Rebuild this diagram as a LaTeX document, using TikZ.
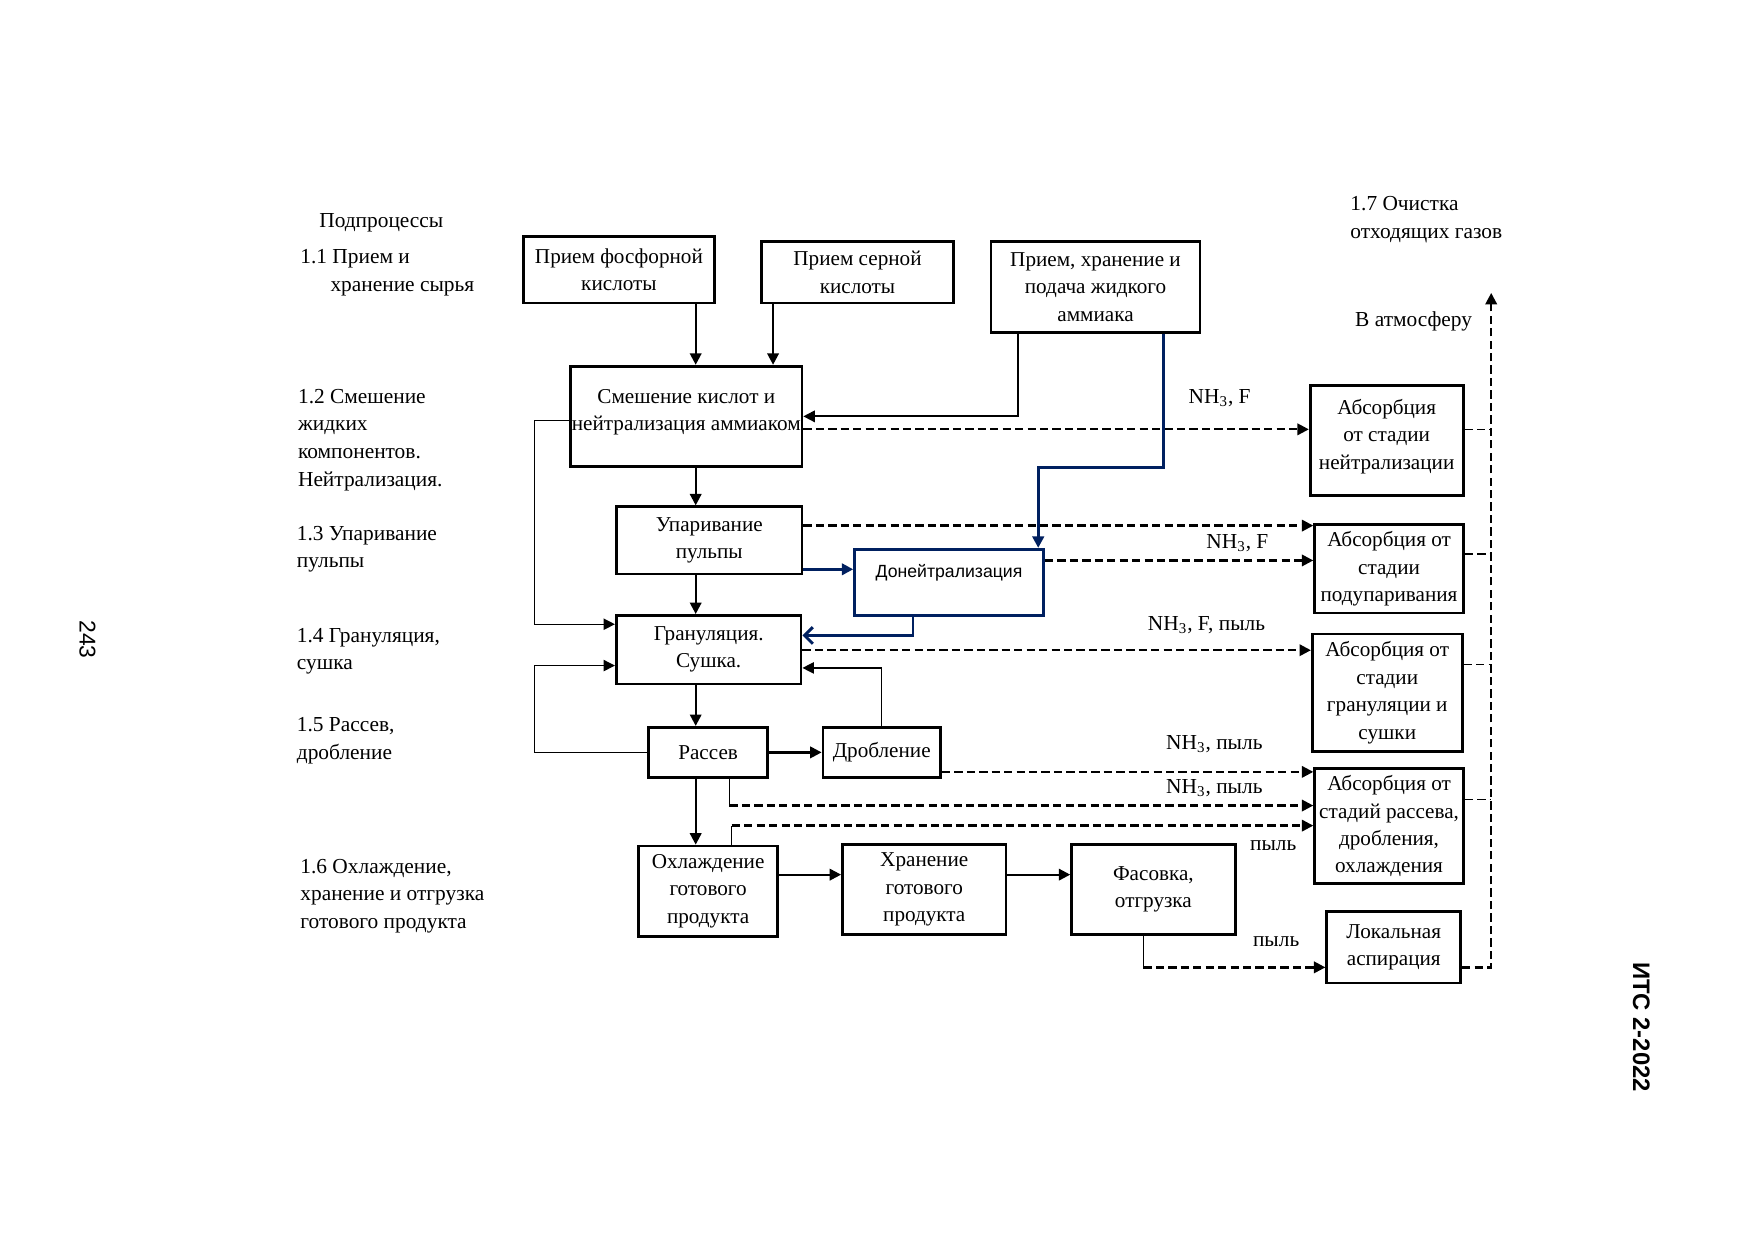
\documentclass[tikz,border=0pt]{standalone}
\usepackage{fontspec}
\setmainfont{Liberation Serif}
\newfontfamily\arialfont{Liberation Sans}
\usetikzlibrary{arrows.meta}
\definecolor{navy}{RGB}{0,32,96}
\begin{document}
\begin{tikzpicture}[>={Triangle[length=5.5pt,width=5.5pt]},
  box/.style={draw, line width=1.3pt, align=center, inner sep=0pt, font=\fontsize{10.2}{13.2}\selectfont},
  lbl/.style={anchor=west, align=left, inner sep=0pt, font=\fontsize{10.3}{13.3}\selectfont},
  flow/.style={->, line width=1.1pt},
  thinflow/.style={->, line width=0.6pt},
  gas/.style={->, line width=1.1pt, dash pattern=on 4pt off 2pt},
  gasline/.style={line width=0.8pt, dash pattern=on 4pt off 2pt},
  blueflow/.style={->, navy, line width=1.6pt}]
\fill[white] (0,0) rectangle (29.7,21.0);
\useasboundingbox (0,0) rectangle (29.7,21.0);

\node[lbl] (sub) at (5.40,17.22) {Подпроцессы};
\node[lbl] (s1) at (5.08,16.38) {1.1 Прием и\\\hspace{0.51cm}хранение сырья};
\node[lbl] (s2) at (5.04,13.55) {1.2 Смешение\\жидких\\компонентов.\\Нейтрализация.};
\node[lbl] (s3) at (5.02,11.70) {1.3 Упаривание\\пульпы};
\node[lbl] (s4) at (5.02,9.97) {1.4 Грануляция,\\сушка};
\node[lbl] (s5) at (5.02,8.46) {1.5 Рассев,\\дробление};
\node[lbl] (s6) at (5.08,5.83) {1.6 Охлаждение,\\хранение и отгрузка\\готового продукта};
\node[lbl] (s7) at (22.86,17.28) {1.7 Очистка\\отходящих газов};
\node[lbl] (atm) at (22.94,15.55) {В атмосферу};

\node[box, minimum width=3.24cm, minimum height=1.12cm] (phos) at (10.48,16.43) {Прием фосфорной\\кислоты};
\node[box, minimum width=3.24cm, minimum height=1.04cm] (sulf) at (14.52,16.39) {Прием серной\\кислоты};
\node[box, minimum width=3.54cm, minimum height=1.53cm] (ammo) at (18.55,16.14) {Прием, хранение и\\подача жидкого\\аммиака};
\node[box, minimum width=3.92cm, minimum height=1.70cm] (mix) at (11.62,13.95) {Смешение кислот и\\нейтрализация аммиаком\\[-7pt]\mbox{}};
\node[box, minimum width=3.14cm, minimum height=1.14cm] (upar) at (12.01,11.85) {Упаривание\\пульпы};
\node[box, navy, minimum width=3.20cm, minimum height=1.12cm, font=\arialfont\fontsize{8.5}{11}\selectfont] (donei) at (16.07,11.14) {\textcolor{black}{Донейтрализация}\\ \mbox{}};
\node[box, minimum width=3.13cm, minimum height=1.16cm] (gran) at (12.00,10.00) {Грануляция.\\Сушка.};
\node[box, minimum width=2.01cm, minimum height=0.85cm] (rass) at (11.99,8.26) {Рассев};
\node[box, minimum width=1.99cm, minimum height=0.85cm] (drob) at (14.93,8.26) {Дробление};
\node[box, minimum width=2.35cm, minimum height=1.53cm] (ohl) at (11.99,5.91) {Охлаждение\\готового\\продукта};
\node[box, minimum width=2.77cm, minimum height=1.52cm] (hran) at (15.65,5.94) {Хранение\\готового\\продукта};
\node[box, minimum width=2.77cm, minimum height=1.52cm] (fas) at (19.53,5.94) {Фасовка,\\отгрузка};
\node[box, minimum width=2.59cm, minimum height=1.86cm] (abs1) at (23.48,13.54) {Абсорбция\\от стадии\\нейтрализации\\[-7pt]\mbox{}};
\node[box, minimum width=2.52cm, minimum height=1.50cm] (abs2) at (23.52,11.37) {Абсорбция от\\стадии\\подупаривания};
\node[box, minimum width=2.54cm, minimum height=1.99cm] (abs3) at (23.49,9.27) {Абсорбция от\\стадии\\грануляции и\\сушки};
\node[box, minimum width=2.52cm, minimum height=1.95cm] (abs4) at (23.52,7.01) {Абсорбция от\\стадий рассева,\\дробления,\\охлаждения};
\node[box, minimum width=2.27cm, minimum height=1.21cm] (asp) at (23.60,4.96) {Локальная\\аспирация};

\node[lbl] (g1) at (20.12,14.26) {NH\textsubscript{3}, F};
\node[lbl] (g2) at (20.42,11.81) {NH\textsubscript{3}, F};
\node[lbl] (g3) at (19.43,10.41) {NH\textsubscript{3}, F, пыль};
\node[lbl] (g4) at (19.74,8.40) {NH\textsubscript{3}, пыль};
\node[lbl] (g5) at (19.74,7.66) {NH\textsubscript{3}, пыль};
\node[lbl] (g6) at (21.16,6.68) {пыль};
\node[lbl] (g7) at (21.21,5.05) {пыль};

\node[rotate=-90, font=\arialfont\fontsize{11}{13}\selectfont] (pagenum) at (1.48,10.17) {243};
\node[rotate=-90, font=\arialfont\bfseries\fontsize{11.5}{13}\selectfont] (its) at (27.79,3.61) {ИТС 2-2022};

\coordinate (spine) at (11.78,0);
\coordinate (vent) at (25.25,16.04);

\draw[flow] (spine |- phos.south) -- (spine |- mix.north);
\draw[flow] (13.09,0 |- sulf.south) -- (13.09,0 |- mix.north);
\draw[->, line width=0.9pt] (17.24,0 |- ammo.south) |- (mix.east);
\draw[blueflow] (19.70,0 |- ammo.south) -- (19.70,13.08) -| (17.58,0 |- donei.north);
\draw[gas] (mix.east |- 0,13.73) -- (abs1.west |- 0,13.73);
\draw[thinflow] (mix.west |- 0,13.88) -| (9.05,10.43) -- (gran.west |- 0,10.43);
\draw[flow] (spine |- mix.south) -- (spine |- upar.north);
\draw[gas] (upar.east |- 0,12.10) -- (abs2.west |- 0,12.10);
\draw[gas] (donei.east |- 0,11.51) -- (abs2.west |- 0,11.51);
\draw[blueflow] (upar.east |- 0,11.36) -- (donei.west |- 0,11.36);
\draw[flow] (spine |- upar.south) -- (spine |- gran.north);
\draw[navy, line width=1.4pt, -{Straight Barb[length=4pt,width=8pt]}] (15.46,0 |- donei.south) |- (gran.east |- 0,10.24);
\draw[gas] (gran.east |- 0,9.99) -- (abs3.west |- 0,9.99);
\draw[flow] (spine |- gran.south) -- (spine |- rass.north);
\draw[thinflow] (rass.west) -| (9.05,9.73) -- (gran.west |- 0,9.73);
\draw[thinflow] (drob.north) |- (gran.east |- 0,9.69);
\draw[flow] (rass.east) -- (drob.west);
\draw[gas] (drob.east |- 0,7.93) -- (abs4.west |- 0,7.93);
\draw[line width=0.6pt] (12.35,0 |- rass.south) -- (12.35,7.36);
\draw[gas] (12.35,7.36) -- (abs4.west |- 0,7.36);
\draw[line width=0.6pt] (12.39,0 |- ohl.north) -- (12.39,7.02);
\draw[gas] (12.39,7.02) -- (abs4.west |- 0,7.02);
\draw[flow] (spine |- rass.south) -- (spine |- ohl.north);
\draw[flow] (ohl.east |- 0,6.19) -- (hran.west |- 0,6.19);
\draw[flow] (hran.east |- 0,6.19) -- (fas.west |- 0,6.19);
\draw[line width=0.6pt] (19.36,0 |- fas.south) -- (19.36,4.62);
\draw[gas] (19.36,4.62) -- (asp.west |- 0,4.62);

\draw[gasline] (abs1.east |- 0,13.73) -- (vent |- 0,13.73);
\draw[gasline] (abs2.east |- 0,11.62) -- (vent |- 0,11.62);
\draw[gasline] (abs3.east |- 0,9.75) -- (vent |- 0,9.75);
\draw[gasline] (abs4.east |- 0,7.46) -- (vent |- 0,7.46);
\draw[gasline, line width=1.1pt, ->] (asp.east |- 0,4.62) -| (vent);
\end{tikzpicture}
\end{document}
